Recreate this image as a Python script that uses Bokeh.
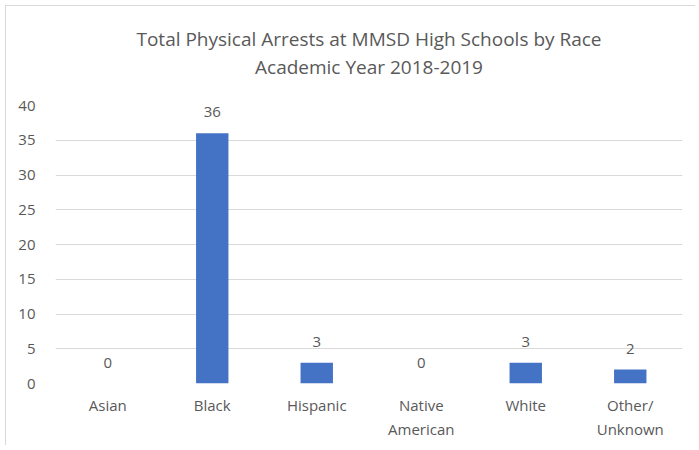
from bokeh.plotting import figure
from bokeh.models import ColumnDataSource, LabelSet, Range1d, FactorRange, SingleIntervalTicker, Title
from bokeh.core.properties import value
from bokeh.embed import file_html
from bokeh.resources import INLINE

categories = ["Asian", "Black", "Hispanic", "Native\nAmerican", "White", "Other/\nUnknown"]
arrests = [0, 36, 3, 0, 3, 2]
title_lines = ["Total Physical Arrests at MMSD High Schools by Race", "Academic Year 2018-2019"]

FONT = "Open Sans"
GREY = "#595959"

src = ColumnDataSource(dict(cat=categories, val=arrests, lab=[str(v) for v in arrests]))

p = figure(x_range=FactorRange(*categories), y_range=Range1d(0, 40),
           width=690, height=440, output_backend="svg", toolbar_location=None,
           min_border_left=49, min_border_right=14, min_border_top=99, min_border_bottom=63)
p.vbar(x="cat", top="val", width=0.31, source=src, fill_color="#4472C4", line_color=None)

labels = LabelSet(x="cat", y="val", text="lab", source=src, text_align="center",
                  text_baseline="middle", y_offset=21, text_font=value(FONT),
                  text_font_size="15px", text_color=GREY)
p.add_layout(labels)

# spacer between the plot area and the title lines
p.add_layout(Title(text=" ", text_font_size="1px", standoff=23), "above")
for line in reversed(title_lines):
    p.add_layout(Title(text=line, align="center", text_font=FONT,
                       text_font_size="19px", text_font_style="normal", text_color=GREY,
                       standoff=0), "above")

p.yaxis.ticker = SingleIntervalTicker(interval=5)
for ax in (p.xaxis, p.yaxis):
    ax.axis_line_color = None
    ax.major_tick_line_color = None
    ax.minor_tick_line_color = None
    ax.major_tick_out = 0
    ax.major_tick_in = 0
    ax.major_label_text_font = FONT
    ax.major_label_text_font_size = "15px"
    ax.major_label_text_color = GREY
p.yaxis.major_label_standoff = 16
p.xaxis.major_label_standoff = 11

p.xgrid.grid_line_color = None
p.ygrid.grid_line_color = "#d9d9d9"
p.outline_line_color = None
p.styles = {"border-left": "1px solid #d9d9d9", "border-top": "1px solid #d9d9d9",
            "margin-left": "5px", "margin-top": "5px"}

open("out.html", "w").write(file_html(p, INLINE))
